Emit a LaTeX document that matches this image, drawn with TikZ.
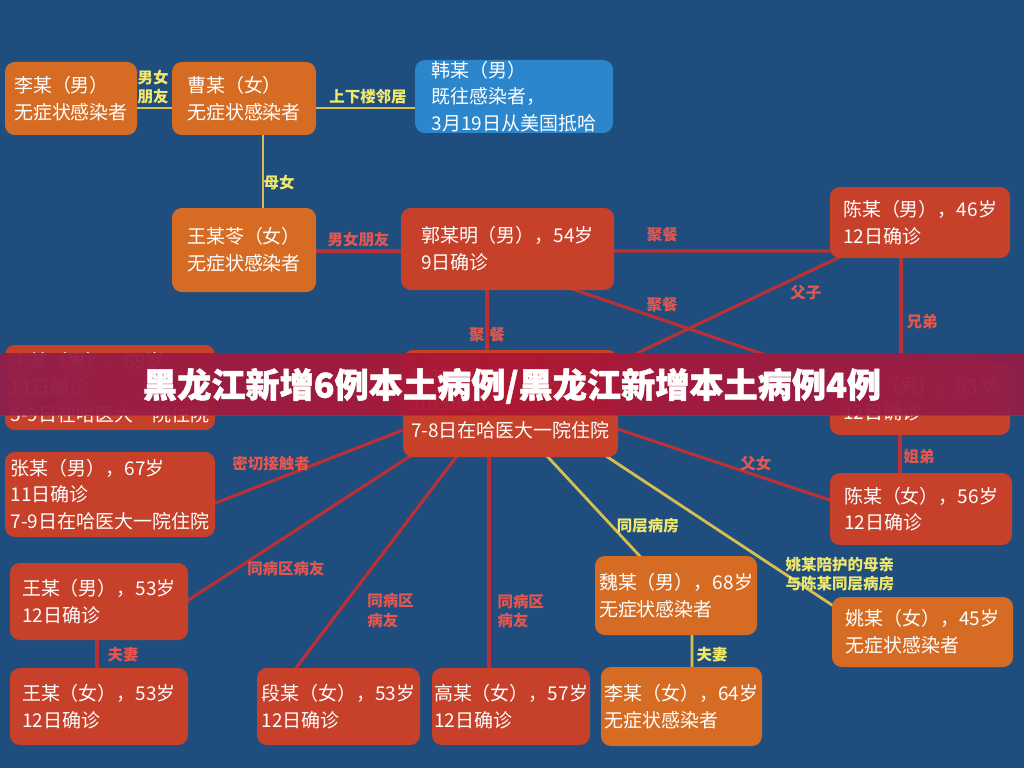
\documentclass[tikz,border=0pt]{standalone}
\usepackage{fontspec}
\newfontfamily\cjk{Noto Sans CJK SC}
\newfontfamily\titlefont[BoldFeatures={FakeBold=1.5}]{Noto Sans CJK SC}
\usetikzlibrary{calc}

\definecolor{bgblue}{RGB}{31,78,126}
\definecolor{boxorange}{RGB}{214,108,36}
\definecolor{boxred}{RGB}{198,64,42}
\definecolor{boxblue}{RGB}{44,134,204}
\definecolor{linered}{RGB}{186,48,52}
\definecolor{lineyellow}{RGB}{214,190,82}
\definecolor{labelred}{RGB}{228,86,78}
\definecolor{labelyellow}{RGB}{240,232,110}
\definecolor{bannerred}{RGB}{208,28,62}
\definecolor{banneredge}{RGB}{175,36,88}

\pgfdeclarelayer{edges}
\pgfdeclarelayer{banner}
\pgfsetlayers{edges,main,banner}

\tikzset{
  case/.style={rounded corners=7pt, text=white, align=left, inner sep=0pt,
    font=\cjk\fontsize{13.5}{19}\selectfont},
  boxsize/.style 2 args={minimum width=#1*0.025cm, minimum height=#2*0.025cm},
  orangecase/.style={case, fill=boxorange},
  redcase/.style={case, fill=boxred},
  bluecase/.style={case, fill=boxblue},
  rline/.style={draw=linered, line width=2.2pt},
  yline/.style={draw=lineyellow, line width=2pt},
  rlabel/.style={text=labelred, align=left, inner sep=0pt, font=\cjk\bfseries\fontsize{11}{14}\selectfont},
  ylabel/.style={rlabel, text=labelyellow},
  bannertext/.style={text=white, font=\titlefont\bfseries\fontsize{24.3}{28}\selectfont}
}

\begin{document}
\begin{tikzpicture}[x=0.025cm, y=-0.025cm]
\useasboundingbox (0,0) rectangle (1024,768);

% people
\node[orangecase, boxsize={132}{73}] (lim) at (71,98.5) {李某（男）\\无症状感染者};
\node[orangecase, boxsize={144}{73}] (cao) at (244,98.5) {曹某（女）\\无症状感染者};
\node[bluecase, boxsize={198}{73}] (han) at (514,96.5) {韩某（男）\\既往感染者，\\3月19日从美国抵哈};
\node[orangecase, boxsize={144}{84}] (wanglq) at (244,250) {王某苓（女）\\无症状感染者};
\node[redcase, boxsize={213}{82}] (guo) at (507.5,249) {郭某明（男），54岁\\9日确诊};
\node[redcase, boxsize={180}{71}] (chen46) at (920,222.5) {陈某（男），46岁\\12日确诊};
\node[redcase, boxsize={215}{107}] (chen87) at (510.5,403.5) {陈某（男），87岁\\10日确诊\\7-8日在哈医大一院住院};
\node[redcase, boxsize={180}{72}] (chen53) at (920,399) {陈某（男），53岁\\12日确诊};
\node[redcase, boxsize={182}{72}] (chen56) at (921,509) {陈某（女），56岁\\12日确诊};
\node[redcase, boxsize={210}{85}] (yu) at (110,387.5) {于某（男），69岁\\11日确诊\\5-9日在哈医大一院住院};
\node[redcase, boxsize={210}{85}] (zhang) at (110,494.5) {张某（男），67岁\\11日确诊\\7-9日在哈医大一院住院};
\node[redcase, boxsize={178}{77}] (wangm) at (99,601.5) {王某（男），53岁\\12日确诊};
\node[redcase, boxsize={178}{77}] (wangf) at (99,706.5) {王某（女），53岁\\12日确诊};
\node[redcase, boxsize={163}{77}] (duan) at (338.5,706.5) {段某（女），53岁\\12日确诊};
\node[redcase, boxsize={158}{77}] (gao) at (511,706.5) {高某（女），57岁\\12日确诊};
\node[orangecase, boxsize={162}{79}] (wei) at (676,595.5) {魏某（男），68岁\\无症状感染者};
\node[orangecase, boxsize={161}{79}] (lif) at (681.5,706.5) {李某（女），64岁\\无症状感染者};
\node[orangecase, boxsize={181}{70}] (yao) at (922.5,632) {姚某（女），45岁\\无症状感染者};

\begin{pgfonlayer}{edges}
\fill[bgblue] (0,0) rectangle (1024,768);

\path[yline]
  ($(lim.east)+(-5,9.5)$) edge node[ylabel, shift={(-1.5,-21)}] {男女\\朋友} ($(cao.west)+(5,9.5)$)
  ($(cao.east)+(-5,9.5)$) edge node[ylabel, shift={(2.5,-11)}] {上下楼邻居} ($(han.west)+(5,11.5)$)
  ($(cao.south)+(19,-5)$) edge node[ylabel, shift={(16,11.5)}] {母女} ($(wanglq.north)+(19,5)$)
  ($(wei.south)+(16,-5)$) edge node[ylabel, shift={(20,4)}] {夫妻} ($(lif.north)+(10.5,5)$)
  ($(chen87.south)+(33,-5)$) edge node[ylabel, pos=.673, shift={(36,0)}] {同层病房} ($(wei.north)+(-31,6)$)
  ($(chen87.south east)+(-18,-5)$) edge node[ylabel, align=center, pos=.984, shift={(0,-36)}] {姚某陪护的母亲\\与陈某同层病房} ($(yao.north west)+(12,16)$);

\path[rline]
  ($(wanglq.east)+(-5,1)$) edge node[rlabel, shift={(0,-11)}] {男女朋友} ($(guo.west)+(5,2)$)
  ($(guo.east)+(-5,2)$) edge node[rlabel, pos=.235, shift={(0,-16)}] {聚餐} ($(chen46.west)+(5,28.5)$)
  ($(guo.south east)+(-50,-4)$) edge node[rlabel, pos=.349, shift={(0,-15)}] {聚餐} ($(chen53.west)+(15,-17)$)
  ($(chen87.north east)+(-10,17)$) edge node[rlabel, pos=.818, shift={(0,20)}] {父子} ($(chen46.south west)+(20,-6)$)
  ($(chen46.south)+(-19,-5)$) edge node[rlabel, shift={(21,11.5)}] {兄弟} ($(chen53.north)+(-19,5)$)
  ($(chen53.south)+(-20,-5)$) edge node[rlabel, shift={(19,3)}] {姐弟} ($(chen56.north)+(-21,5)$)
  ($(chen87.east)+(-10,22.5)$) edge node[rlabel, pos=.624, shift={(0,-12)}] {父女} ($(chen56.west)+(15,-4)$)
  ($(guo.south)+(-20.5,-5)$) edge node[rlabel, shift={(0,15)}] {聚\hspace{0.12cm}餐} ($(chen87.north)+(-23.5,5)$)
  ($(zhang.east)+(-10,12.5)$) edge node[rlabel, pos=.314, shift={(0,-18)}] {密切接触者} ($(chen87.west)+(12,22)$)
  ($(wangm.east)+(-10,5)$) edge node[rlabel, pos=.444, shift={(0,31.5)}] {同病区病友} ($(chen87.south west)+(18,-8)$)
  ($(duan.north)+(-50,10)$) edge node[rlabel, pos=.29, anchor=west, shift={(26.5,0)}] {同病区\\病友} ($(chen87.south)+(-47,-10)$)
  ($(chen87.south)+(-21.5,-5)$) edge node[rlabel, pos=.72, anchor=west, shift={(7,0)}] {同病区\\病友} ($(gao.north)+(-22,5)$)
  ($(wangm.south)+(-2,-5)$) edge node[rlabel, shift={(26,1)}] {夫妻} ($(wangf.north)+(-2,5)$);
\end{pgfonlayer}

% title strip over the chart
\begin{pgfonlayer}{banner}
\fill[fill opacity=0.8, left color=banneredge, right color=banneredge, middle color=bannerred]
  (0,353) rectangle (1024,415);
\node[bannertext] (title) at (512,386) {黑龙江新增6例本土病例/黑龙江新增本土病例4例};
\end{pgfonlayer}
\end{tikzpicture}
\end{document}
